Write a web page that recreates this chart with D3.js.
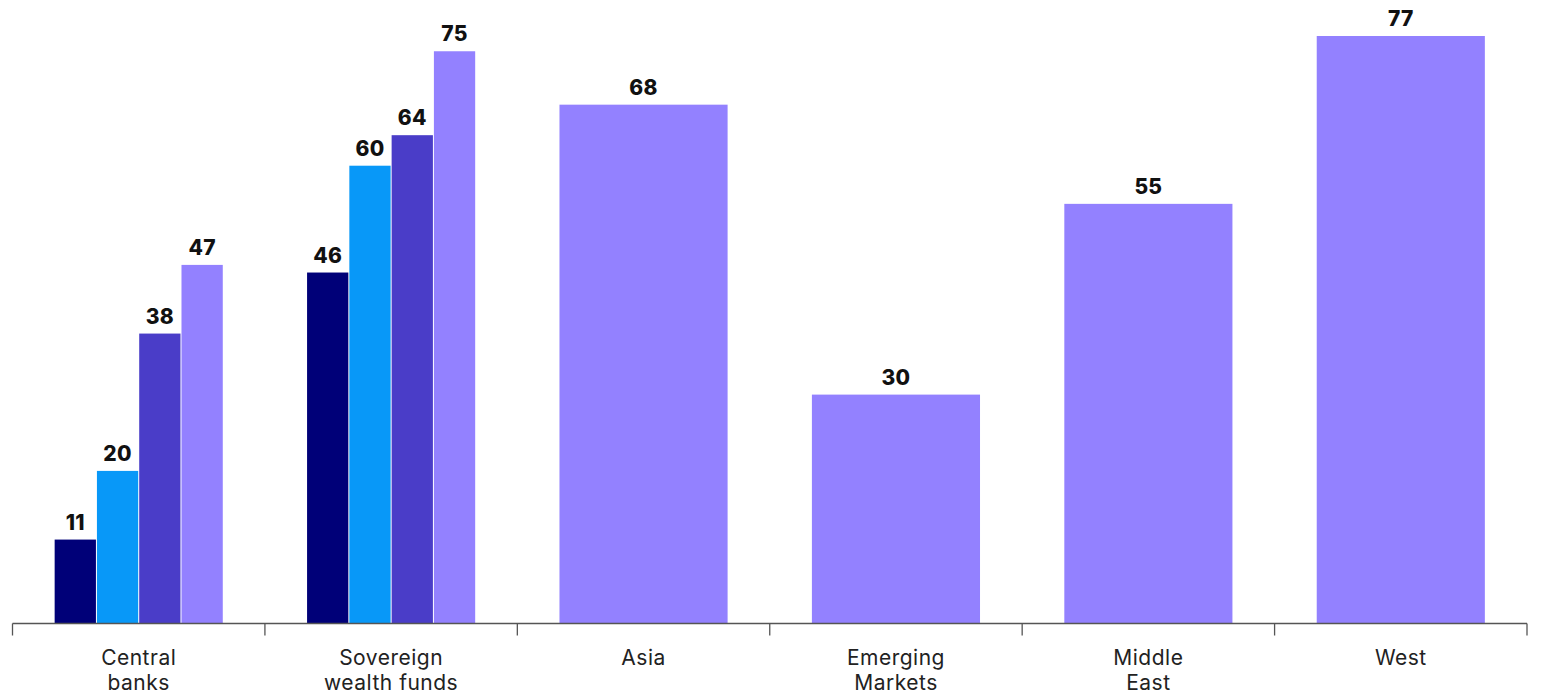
<!DOCTYPE html>
<html><head><meta charset="utf-8">
<script src="https://cdn.jsdelivr.net/npm/d3@7"></script>
<style>
body{margin:0;background:#fff;}
svg{display:block;font-family:Inter,"Noto Sans",sans-serif;}
</style></head>
<body><svg id="chart" width="1544" height="696"></svg>
<script>
const categories = ["Central banks","Sovereign wealth funds","Asia","Emerging Markets","Middle East","West"];
const categoryLines = [["Central","banks"],["Sovereign","wealth funds"],["Asia"],["Emerging","Markets"],["Middle","East"],["West"]];
const series1 = [11, 46, null, null, null, null];
const series2 = [20, 60, null, null, null, null];
const series3 = [38, 64, null, null, null, null];
const series4 = [47, 75, 68, 30, 55, 77];
const seriesColors = ["#000078", "#0898f8", "#4a3dc8", "#9381ff"];

const svg = d3.select("#chart");
const left = 12.5, right = 1527, baseY = 623.5;

const x = d3.scaleBand().domain(categories).range([left, right]).paddingInner(0.33).paddingOuter(0.165);
const y = d3.scaleLinear().domain([0, 77]).range([baseY, 36]);

const allSeries = [series1, series2, series3, series4];
const bars = [];
categories.forEach((c, i) => {
  const present = allSeries.map((s, k) => ({k, v: s[i]})).filter(d => d.v != null);
  const sub = d3.scaleBand().domain(present.map(d => d.k)).range([0, x.bandwidth()]);
  present.forEach(d => bars.push({c, k: d.k, v: d.v, x: x(c) + sub(d.k), w: sub.bandwidth()}));
});

svg.append("g").selectAll("rect").data(bars).join("rect")
  .attr("x", d => d.x + 0.5)
  .attr("width", d => d.w - 1)
  .attr("y", d => y(d.v))
  .attr("height", d => y(0) - y(d.v))
  .attr("fill", d => seriesColors[d.k]);

svg.append("g").selectAll("text").data(bars).join("text")
  .attr("x", d => d.x + d.w / 2)
  .attr("y", d => y(d.v) - 10)
  .attr("text-anchor", "middle")
  .attr("font-size", 21)
  .attr("font-weight", 800)
  .attr("letter-spacing", 0.3)
  .attr("fill", "#111")
  .text(d => d.v);

// axis
const step = x.step();
const boundaries = categories.map(c => x(c) - step * x.paddingInner() / 2).concat([right]);
const ax = svg.append("g");
ax.append("line").attr("x1", left).attr("x2", right).attr("y1", baseY).attr("y2", baseY)
  .attr("stroke", "#555").attr("stroke-width", 1.3);
ax.selectAll("line.tick").data(boundaries).join("line").attr("class", "tick")
  .attr("x1", d => d).attr("x2", d => d).attr("y1", baseY).attr("y2", baseY + 12)
  .attr("stroke", "#555").attr("stroke-width", 1.3);

const lab = svg.append("g").selectAll("text").data(categories).join("text")
  .attr("x", c => x(c) + x.bandwidth() / 2)
  .attr("y", 665)
  .attr("text-anchor", "middle")
  .attr("font-size", 21)
  .attr("letter-spacing", 0.5)
  .attr("fill", "#222");
lab.each(function(c, i) {
  const t = d3.select(this);
  categoryLines[i].forEach((line, j) => {
    t.append("tspan").attr("x", x(c) + x.bandwidth() / 2).attr("dy", j === 0 ? 0 : 25).text(line);
  });
});
</script></body></html>
